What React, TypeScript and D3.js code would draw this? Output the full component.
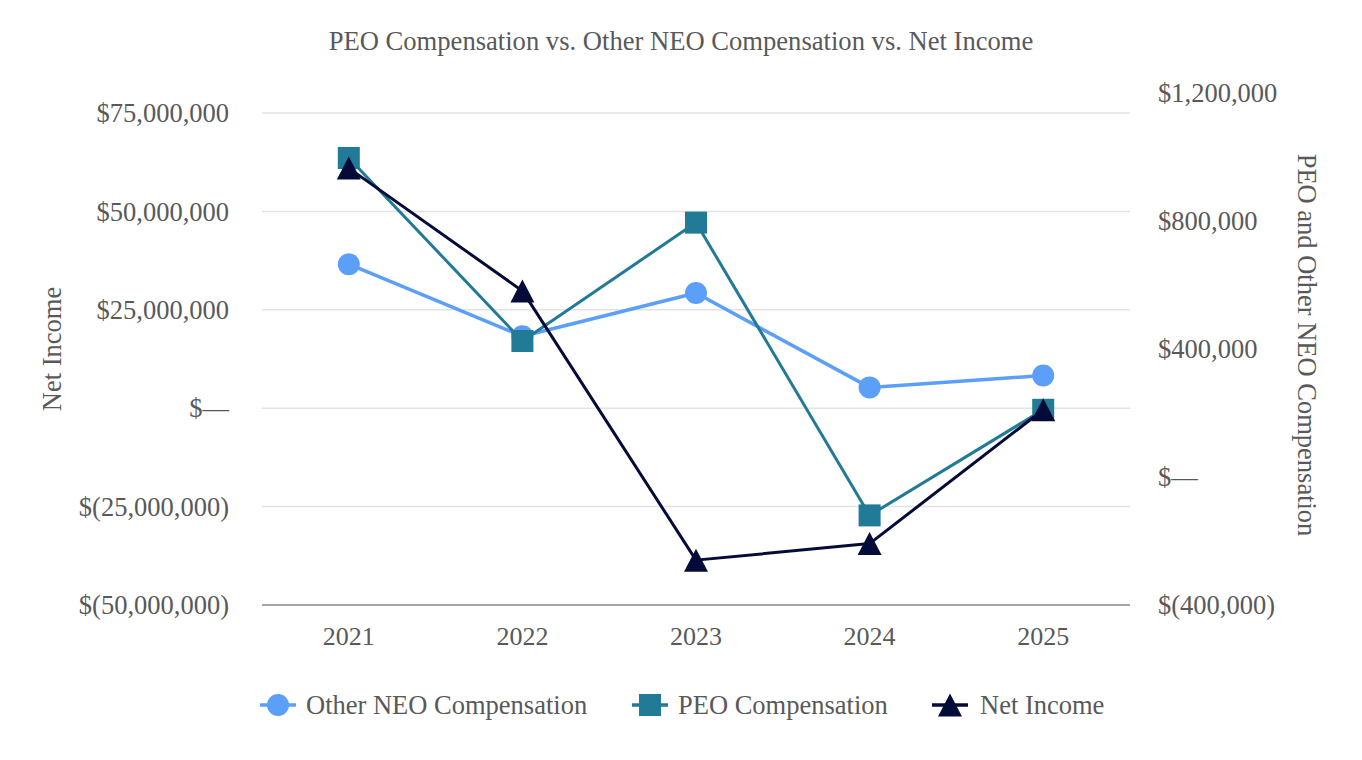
import React from 'react';
import * as d3 from 'd3';

const years = ['2021', '2022', '2023', '2024', '2025'];
const otherNeoComp = [665000, 440000, 575000, 280000, 317000];
const peoComp = [997000, 425000, 795000, -120000, 210000];
const netIncome = [61000000, 29800000, -38600000, -34400000, -400000];
const leftTicks = [-50000000, -25000000, 0, 25000000, 50000000, 75000000];
const rightTicks = [-400000, 0, 400000, 800000, 1200000];

const W = 1362, H = 760;
const FONT = '"Liberation Serif", "Times New Roman", serif';
const GREY = '#595959';
const C_OTHER = '#5B9FF8';
const C_PEO = '#217A96';
const C_NET = '#050B38';
const FS = 26.5;

const fmt = (v: number) => {
  if (v === 0) return '$\u2014';
  const s = d3.format(',')(Math.abs(v));
  return v < 0 ? `$(${s})` : `$${s}`;
};

function Marker({ kind, x, y, color }: { kind: string; x: number; y: number; color: string }) {
  if (kind === 'circle') return <circle cx={x} cy={y} r={11} fill={color} />;
  if (kind === 'square') return <rect x={x - 11} y={y - 11} width={22} height={22} fill={color} />;
  const w = 24, h = 23;
  return <path d={`M${x},${y - h / 2}L${x + w / 2},${y + h / 2}L${x - w / 2},${y + h / 2}Z`} fill={color} />;
}

export default function App() {
  const plotL = 262, plotR = 1130;
  const x = d3.scaleBand<string>().domain(years).range([plotL, plotR]);
  const xc = (d: string) => (x(d) as number) + x.bandwidth() / 2;
  const yL = d3.scaleLinear().domain([-50000000, 75000000]).range([605, 113]);
  const yR = d3.scaleLinear().domain([-400000, 1200000]).range([605, 93]);

  const series = [
    { name: 'Other NEO Compensation', values: otherNeoComp, scale: yR, color: C_OTHER, kind: 'circle', width: 3.5 },
    { name: 'PEO Compensation', values: peoComp, scale: yR, color: C_PEO, kind: 'square', width: 3 },
    { name: 'Net Income', values: netIncome, scale: yL, color: C_NET, kind: 'triangle', width: 3 },
  ];

  const legend = [
    { lx: 278, tx: 306 },
    { lx: 650, tx: 678 },
    { lx: 950, tx: 980 },
  ];

  return (
    <svg width={W} height={H} style={{ position: 'absolute', left: 0, top: 0, background: '#fff' }} fontFamily={FONT}>
      <rect width={W} height={H} fill="#fff" />
      <text x={681} y={41} dy="0.35em" textAnchor="middle" fontSize={26.6} fill={GREY}>
        PEO Compensation vs. Other NEO Compensation vs. Net Income
      </text>
      {leftTicks.filter(t => t !== -50000000).map(t => (
        <line key={t} x1={plotL} x2={plotR} y1={yL(t)} y2={yL(t)} stroke="#e3e3e3" strokeWidth={1.5} />
      ))}
      <line x1={plotL} x2={plotR} y1={605} y2={605} stroke="#a6a6a6" strokeWidth={2} />
      {leftTicks.map(t => (
        <text key={t} x={229} y={yL(t)} dy="0.35em" textAnchor="end" fontSize={FS} fill={GREY}>{fmt(t)}</text>
      ))}
      {rightTicks.map(t => (
        <text key={t} x={1158} y={yR(t)} dy="0.35em" textAnchor="start" fontSize={FS} fill={GREY}>{fmt(t)}</text>
      ))}
      {years.map(yv => (
        <text key={yv} x={xc(yv)} y={636} dy="0.35em" textAnchor="middle" fontSize={26} fill={GREY}>{yv}</text>
      ))}
      <text transform={`translate(52,349) rotate(-90)`} textAnchor="middle" dy="0.35em" fontSize={FS} fill={GREY}>Net Income</text>
      <text transform={`translate(1307,345) rotate(90)`} textAnchor="middle" dy="0.35em" fontSize={FS} fill={GREY}>PEO and Other NEO Compensation</text>
      {series.map(s => {
        const line = d3.line<number>().x((_, i) => xc(years[i])).y(v => s.scale(v));
        return (
          <g key={s.name}>
            <path d={line(s.values) || ''} fill="none" stroke={s.color} strokeWidth={s.width} strokeLinejoin="round" />
            {s.values.map((v, i) => (
              <Marker key={i} kind={s.kind} x={xc(years[i])} y={s.scale(v)} color={s.color} />
            ))}
          </g>
        );
      })}
      {series.map((s, i) => (
        <g key={s.name}>
          <line x1={legend[i].lx - 18} x2={legend[i].lx + 18} y1={705} y2={705} stroke={s.color} strokeWidth={3.5} />
          <Marker kind={s.kind} x={legend[i].lx} y={705} color={s.color} />
          <text x={legend[i].tx} y={705} dy="0.35em" fontSize={FS} fill={GREY}>{s.name}</text>
        </g>
      ))}
    </svg>
  );
}
